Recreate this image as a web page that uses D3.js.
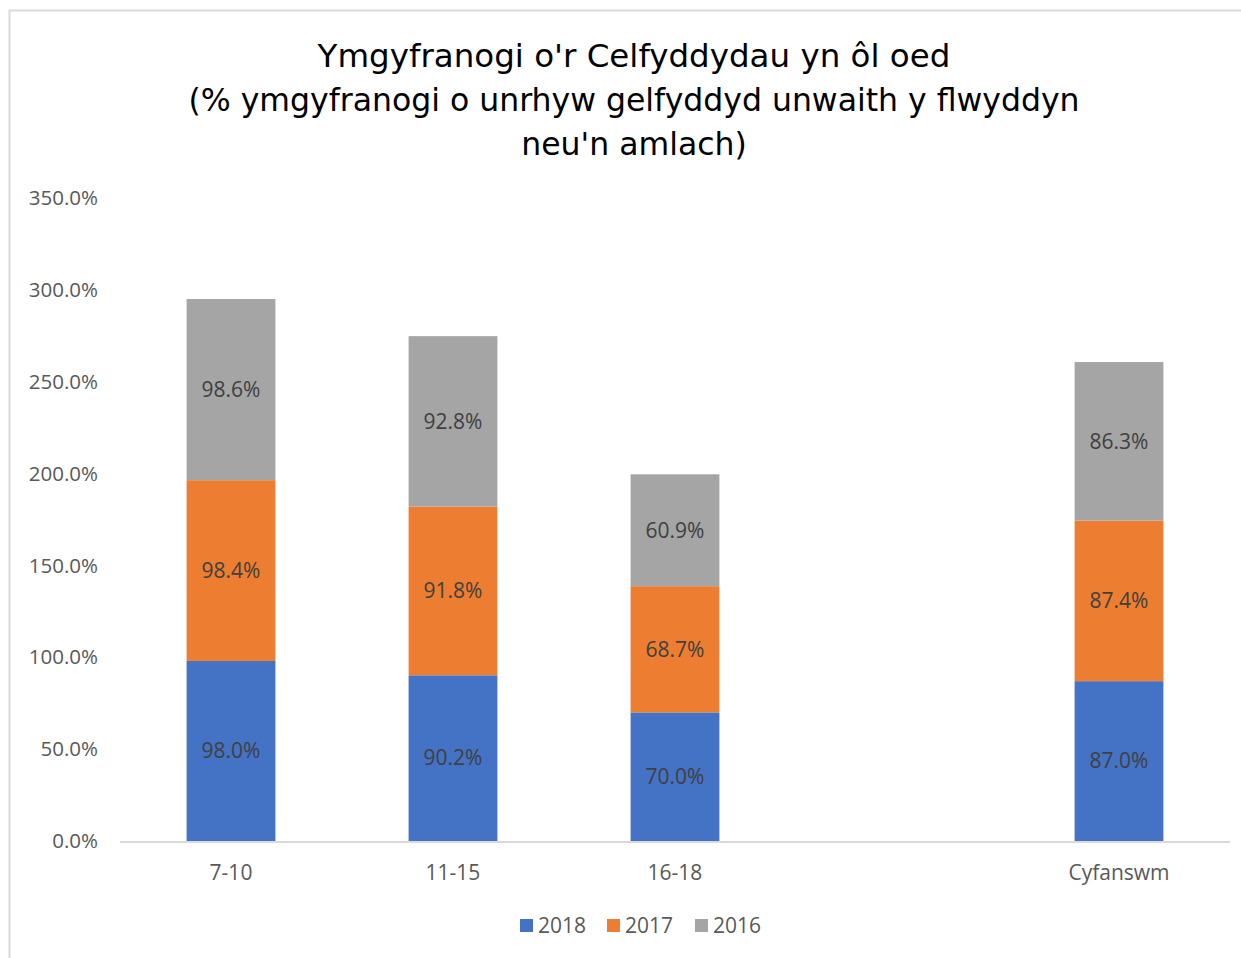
<!DOCTYPE html>
<html>
<head>
<meta charset="utf-8">
<script src="https://cdn.jsdelivr.net/npm/d3@7"></script>
<style>
  body { margin: 0; background: #fff; }
  text { font-family: "Open Sans", "Liberation Sans", sans-serif; }
</style>
</head>
<body>
<div id="chart"></div>
<script>
const categories = ["7-10", "11-15", "16-18", " ", "Cyfanswm"];
const seriesNames = ["2018", "2017", "2016"];
const values2018 = [98.0, 90.2, 70.0, null, 87.0];
const values2017 = [98.4, 91.8, 68.7, null, 87.4];
const values2016 = [98.6, 92.8, 60.9, null, 86.3];
const yTicks = [0, 50, 100, 150, 200, 250, 300, 350];
const titleLines = [
  "Ymgyfranogi o'r Celfyddydau yn ôl oed",
  "(% ymgyfranogi o unrhyw gelfyddyd unwaith y flwyddyn",
  "neu'n amlach)"
];

const colors = ["#4472C4", "#ED7D31", "#A5A5A5"];
const W = 1241, H = 958;
const margin = { top: 198, right: 11, bottom: 117, left: 120 };
const width = W - margin.left - margin.right;
const height = H - margin.top - margin.bottom;

const svgRoot = d3.select("#chart")
  .append("svg")
  .attr("width", W)
  .attr("height", H);

// chart frame
svgRoot.append("rect")
  .attr("x", 9.5).attr("y", 10.5)
  .attr("width", W).attr("height", H)
  .attr("fill", "#fff")
  .attr("stroke", "#d9d9d9")
  .attr("stroke-width", 2);

// title
const title = svgRoot.append("text")
  .attr("text-anchor", "middle")
  .attr("fill", "#000");
titleLines.forEach((t, i) => {
  title.append("tspan")
    .attr("x", 634)
    .attr("y", 67 + i * 44)
    .attr("font-size", i === 0 ? "32.5px" : "31.5px")
    .style("font-family", "'Futura', 'Century Gothic', 'DejaVu Sans', sans-serif")
    .text(t);
});

const svg = svgRoot.append("g")
  .attr("transform", `translate(${margin.left},${margin.top})`);

const x = d3.scaleBand()
  .domain(categories)
  .range([0, width])
  .paddingInner(0.6)
  .paddingOuter(0.3);

const y = d3.scaleLinear()
  .domain([0, 350])
  .range([height, 0]);

// y axis labels
svg.selectAll(".ytick")
  .data(yTicks)
  .enter().append("text")
  .attr("class", "ytick")
  .attr("x", -22)
  .attr("y", d => y(d))
  .attr("dy", "0.35em")
  .attr("text-anchor", "end")
  .attr("font-size", "20.5px")
  .attr("fill", "#595959")
  .text(d => d.toFixed(1) + "%");

// build stacked data
const table = categories.map((c, i) => ({
  cat: c,
  "2018": values2018[i],
  "2017": values2017[i],
  "2016": values2016[i]
})).filter(d => d["2018"] !== null);

const stacked = d3.stack().keys(seriesNames)(table);

const layer = svg.selectAll(".layer")
  .data(stacked)
  .enter().append("g")
  .attr("class", "layer")
  .attr("fill", (d, i) => colors[i]);

layer.selectAll("rect")
  .data(d => d)
  .enter().append("rect")
  .attr("x", d => x(d.data.cat))
  .attr("y", d => y(d[1]))
  .attr("width", x.bandwidth())
  .attr("height", d => y(d[0]) - y(d[1]));

layer.selectAll(".lbl")
  .data(d => d.map(v => ({ v, key: d.key })))
  .enter().append("text")
  .attr("class", "lbl")
  .attr("x", d => x(d.v.data.cat) + x.bandwidth() / 2)
  .attr("y", d => y((d.v[0] + d.v[1]) / 2))
  .attr("dy", "0.35em")
  .attr("text-anchor", "middle")
  .attr("font-size", "21px")
  .attr("fill", "#404040")
  .text(d => d.v.data[d.key].toFixed(1) + "%");

// x axis line
svg.append("line")
  .attr("x1", 0).attr("x2", width)
  .attr("y1", height + 1).attr("y2", height + 1)
  .attr("stroke", "#d9d9d9")
  .attr("stroke-width", 2);

svg.selectAll(".xtick")
  .data(categories)
  .enter().append("text")
  .attr("class", "xtick")
  .attr("x", d => x(d) + x.bandwidth() / 2)
  .attr("y", height + 32)
  .attr("dy", "0.35em")
  .attr("text-anchor", "middle")
  .attr("font-size", "21px")
  .attr("fill", "#595959")
  .text(d => d);

// legend
const legendX = [520, 607, 695];
const legend = svgRoot.selectAll(".legend")
  .data(seriesNames)
  .enter().append("g")
  .attr("class", "legend")
  .attr("transform", (d, i) => `translate(${legendX[i]},926)`);

legend.append("rect")
  .attr("x", 0).attr("y", -7)
  .attr("width", 13).attr("height", 13)
  .attr("fill", (d, i) => colors[i]);

legend.append("text")
  .attr("x", 18)
  .attr("dy", "0.35em")
  .attr("font-size", "21px")
  .attr("fill", "#595959")
  .text(d => d);
</script>
</body>
</html>
